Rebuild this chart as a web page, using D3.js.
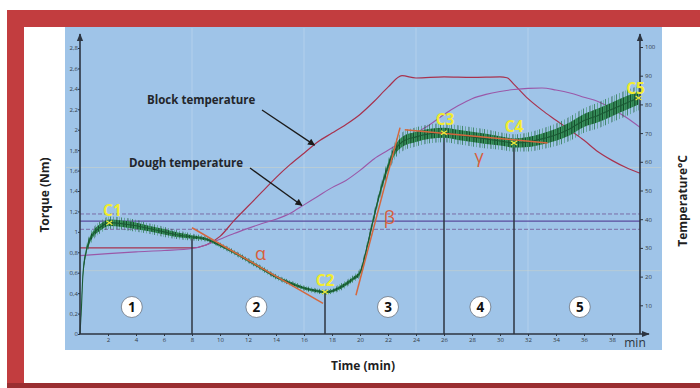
<!DOCTYPE html>
<html>
<head>
<meta charset="utf-8">
<script src="https://cdn.jsdelivr.net/npm/d3@7"></script>
<style>
  html, body { margin: 0; padding: 0; background: #ffffff; }
  svg { display: block; }
  text { font-family: "Open Sans", "DejaVu Sans", sans-serif; }
</style>
</head>
<body>
<svg id="chart" width="700" height="388"></svg>
<script>
// ---- Mixolab run: torque and temperature profiles ----
const torqueTime = [0, 0.1, 0.2, 0.4, 0.7, 1.0, 1.5, 2.1, 3, 4, 5, 6, 7, 8, 9, 10, 11, 12, 13, 14, 15, 16, 17, 17.5, 18, 18.5, 19, 19.5, 20, 20.5, 21, 21.5, 22, 22.5, 23, 24, 25, 26, 27, 28, 29, 30, 31, 32, 33, 34, 35, 36, 37, 38, 39, 39.9];
const torqueNm   = [0, 0.25, 0.56, 0.78, 0.92, 0.99, 1.05, 1.09, 1.08, 1.06, 1.03, 1.0, 0.97, 0.95, 0.93, 0.87, 0.8, 0.72, 0.64, 0.56, 0.5, 0.45, 0.42, 0.41, 0.42, 0.45, 0.49, 0.54, 0.6, 0.85, 1.15, 1.42, 1.64, 1.8, 1.88, 1.93, 1.96, 1.97, 1.95, 1.93, 1.91, 1.89, 1.87, 1.88, 1.91, 1.95, 2.01, 2.09, 2.14, 2.2, 2.26, 2.31];
// spread of the raw torque signal around its mean
const torqueSpread = [0, 0.02, 0.03, 0.03, 0.035, 0.035, 0.035, 0.035, 0.035, 0.035, 0.03, 0.03, 0.025, 0.02, 0.015, 0.015, 0.015, 0.015, 0.015, 0.015, 0.015, 0.015, 0.015, 0.015, 0.015, 0.02, 0.02, 0.02, 0.025, 0.03, 0.03, 0.035, 0.04, 0.05, 0.055, 0.055, 0.055, 0.055, 0.055, 0.055, 0.055, 0.05, 0.05, 0.055, 0.06, 0.065, 0.07, 0.07, 0.075, 0.075, 0.075, 0.07];

const blockTime = [0, 8, 9, 10, 11, 12, 13, 14, 15, 16, 17, 18, 19, 20, 21, 22, 23, 24, 26, 28, 30, 30.5, 31, 32, 33, 34, 35, 36, 37, 38, 39, 40];
const blockTemp = [30, 30, 31, 34, 39.5, 44.5, 49.5, 54.5, 59, 63, 67, 70, 73, 76.5, 81, 86, 90, 89.2, 89.6, 89.4, 89.6, 89.3, 87, 82, 78, 74.5, 71, 67.5, 63.5, 60.5, 58, 56];

const doughTime = [0, 2, 4, 6, 8, 9, 10, 11, 12, 13, 14, 15, 16, 17, 18, 19, 20, 21, 22, 23, 24, 25, 26, 27, 28, 29, 30, 31, 32, 33, 34, 35, 36, 37, 38, 39, 40];
const doughTemp = [27.3, 28, 28.6, 29.1, 29.8, 31, 33, 35, 36.8, 38.5, 40, 42, 45, 48, 51, 53.5, 57, 61, 64, 67, 70, 73, 76.5, 79.5, 82, 83.5, 84.5, 85.2, 85.6, 85.7, 85, 84, 82.5, 81, 78.5, 75.5, 72];

// target torque band (Nm)
const targetLine = 1.105;
const targetBand = [1.025, 1.175];

// characteristic points
const cNames  = ["C1", "C2", "C3", "C4", "C5"];
const cTime   = [2.1, 17.5, 26, 31, 39.9];
const cTorque = [1.09, 0.41, 1.97, 1.87, 2.31];

// stage boundaries (min) and stage numbers
const stageBounds = [8, 17.5, 26, 31];
const stageTorque = [0.95, 0.41, 1.97, 1.87];
const stageNames  = ["1", "2", "3", "4", "5"];
const stageCenter = [3.7, 12.6, 22.0, 28.6, 35.7];

// slope tangents  [t0, T0, t1, T1]
const slopeNames = ["α", "β", "γ"];
const slopeLines = [[8, 1.04, 17.36, 0.30], [19.71, 0.38, 22.86, 2.02], [23.2, 2.0, 33.4, 1.87]];
const slopeLabelPos = [[12.9, 0.79], [22.1, 1.15], [28.5, 1.74]];

// axis ticks
const torqueTicks = [0, 0.2, 0.4, 0.6, 0.8, 1, 1.2, 1.4, 1.6, 1.8, 2, 2.2, 2.4, 2.6, 2.8];
const tempTicks = [10, 20, 30, 40, 50, 60, 70, 80, 90, 100];
const timeTicks = [2, 4, 6, 8, 10, 12, 14, 16, 18, 20, 22, 24, 26, 28, 30, 32, 34, 36, 38];

// annotations: label, text anchor point, arrow target [min, °C]
const notes = [
  { text: "Block temperature", tx: 147, ty: 104, from: [262, 110], to: [16.75, 65.8] },
  { text: "Dough temperature", tx: 129, ty: 167, from: [250, 168], to: [15.85, 44.8] }
];

const svg = d3.select("#chart");

// ---- frame ----
svg.append("rect").attr("x", 7).attr("y", 10).attr("width", 693).attr("height", 378).attr("fill", "#c23d3f");
svg.append("rect").attr("x", 7).attr("y", 383).attr("width", 693).attr("height", 5).attr("fill", "#9a2e31");
svg.append("rect").attr("x", 24).attr("y", 27).attr("width", 676).attr("height", 356).attr("fill", "#ffffff");

// plot panel
svg.append("rect").attr("x", 65).attr("y", 27).attr("width", 597).attr("height", 323).attr("fill", "#9fc4e8");

// ---- scales ----
const x = d3.scaleLinear().domain([0, 40]).range([80, 640]);
const yT = d3.scaleLinear().domain([0, 2.8]).range([334, 48]);
const yC = d3.scaleLinear().domain([0, 100]).range([334, 47]);

// faint grid
const g = svg.append("g");
[0.62, 1.63].forEach(v => g.append("line").attr("x1", 66).attr("x2", 661).attr("y1", yT(v)).attr("y2", yT(v))
  .attr("stroke", "#d8d6c0").attr("stroke-opacity", 0.45).attr("stroke-width", 1));
[8, 16, 24, 32].forEach(v => g.append("line").attr("x1", x(v)).attr("x2", x(v)).attr("y1", 28).attr("y2", 333)
  .attr("stroke", "#c9dcef").attr("stroke-opacity", 0.5).attr("stroke-width", 1));

// ---- target torque lines ----
svg.append("line").attr("x1", x(0)).attr("x2", x(40)).attr("y1", yT(targetLine)).attr("y2", yT(targetLine))
  .attr("stroke", "#5a4b9e").attr("stroke-width", 1.3);
targetBand.forEach(v => svg.append("line").attr("x1", x(0)).attr("x2", x(40)).attr("y1", yT(v)).attr("y2", yT(v))
  .attr("stroke", "#7a6ca6").attr("stroke-width", 1).attr("stroke-dasharray", "4,2"));

// ---- temperature curves ----
const tempLine = d3.line().curve(d3.curveMonotoneX);
svg.append("path")
  .attr("d", tempLine(blockTime.map((t, i) => [x(t), yC(blockTemp[i])])))
  .attr("fill", "none").attr("stroke", "#a8324e").attr("stroke-width", 1.2);
svg.append("path")
  .attr("d", tempLine(doughTime.map((t, i) => [x(t), yC(doughTemp[i])])))
  .attr("fill", "none").attr("stroke", "#9a58a8").attr("stroke-width", 1.1);

// ---- stage boundaries ----
stageBounds.forEach((t, i) => svg.append("line")
  .attr("x1", x(t)).attr("x2", x(t)).attr("y1", yT(0)).attr("y2", yT(stageTorque[i]))
  .attr("stroke", "#2c3440").attr("stroke-width", 1.5));

// ---- torque signal: mean trace inside its fluctuation band ----
const defs = svg.append("defs");
function stripePattern(id, w, bg, stripes) {
  const p = defs.append("pattern").attr("id", id).attr("patternUnits", "userSpaceOnUse")
    .attr("width", w).attr("height", 400);
  if (bg) p.append("rect").attr("width", w).attr("height", 400).attr("fill", bg);
  stripes.forEach(s => p.append("rect").attr("x", s[0]).attr("width", s[1]).attr("height", 400).attr("fill", s[2]));
}
stripePattern("signalOuter", 11, null, [[0, 0.8, "#1d6a3c"], [3.2, 0.6, "#2f8a55"], [6.5, 0.9, "#175a33"], [9, 0.5, "#3a9c63"]]);
stripePattern("signalInner", 7, "#3a9460", [[0, 1, "#154f2c"], [2.5, 0.7, "#1f6b3c"], [4.3, 1.1, "#104526"], [6, 0.5, "#2a7d4c"]]);

const tData = torqueTime.map((t, i) => ({ t, v: torqueNm[i], s: torqueSpread[i] }));
const bandOf = k => d3.area().curve(d3.curveMonotoneX)
  .x(d => x(d.t)).y0(d => yT(d.v - d.s * k)).y1(d => yT(d.v + d.s * k));
svg.append("path").attr("d", bandOf(1.7)(tData)).attr("fill", "url(#signalOuter)").attr("opacity", 0.85);
svg.append("path").attr("d", bandOf(0.9)(tData)).attr("fill", "url(#signalInner)");
svg.append("path")
  .attr("d", d3.line().curve(d3.curveMonotoneX).x(d => x(d.t)).y(d => yT(d.v))(tData))
  .attr("fill", "none").attr("stroke", "#1a5a34").attr("stroke-width", 1.1);

// ---- slope tangents ----
slopeLines.forEach(s => svg.append("line")
  .attr("x1", x(s[0])).attr("y1", yT(s[1])).attr("x2", x(s[2])).attr("y2", yT(s[3]))
  .attr("stroke", "#d4683e").attr("stroke-width", 1.5));
slopeNames.forEach((n, i) => svg.append("text")
  .attr("x", x(slopeLabelPos[i][0])).attr("y", yT(slopeLabelPos[i][1]))
  .attr("text-anchor", "middle").attr("dominant-baseline", "central")
  .attr("font-family", "DejaVu Serif, serif").attr("font-size", 18).attr("fill", "#d8603c").text(n));

// ---- axes ----
const axisColor = "#2c3440";
defs.append("marker").attr("id", "axArrow").attr("viewBox", "0 0 10 10").attr("refX", 9).attr("refY", 5)
  .attr("markerWidth", 5).attr("markerHeight", 5).attr("orient", "auto")
  .append("path").attr("d", "M0,1 L10,5 L0,9 Z").attr("fill", axisColor);

svg.append("line").attr("x1", x(0)).attr("x2", x(0)).attr("y1", yT(0)).attr("y2", 34)
  .attr("stroke", axisColor).attr("stroke-width", 1.6).attr("marker-end", "url(#axArrow)");
svg.append("line").attr("x1", x(40)).attr("x2", x(40)).attr("y1", yT(0)).attr("y2", 34)
  .attr("stroke", axisColor).attr("stroke-width", 1.6).attr("marker-end", "url(#axArrow)");
svg.append("line").attr("x1", x(0)).attr("x2", 649).attr("y1", yT(0)).attr("y2", yT(0))
  .attr("stroke", axisColor).attr("stroke-width", 1.6).attr("marker-end", "url(#axArrow)");

const fmtComma = v => String(v).replace(".", ",");
const tickFont = 6;

const leftAxis = svg.append("g").attr("transform", `translate(${x(0)},0)`)
  .call(d3.axisLeft(yT).tickValues(torqueTicks).tickSize(2).tickFormat(fmtComma));
const rightAxis = svg.append("g").attr("transform", `translate(${x(40)},0)`)
  .call(d3.axisRight(yC).tickValues(tempTicks).tickSize(3).tickFormat(d3.format("d")));
const bottomAxis = svg.append("g").attr("transform", `translate(0,${yT(0)})`)
  .call(d3.axisBottom(x).tickValues(timeTicks).tickSize(2).tickFormat(d3.format("d")));
[leftAxis, rightAxis, bottomAxis].forEach(a => {
  a.select(".domain").remove();
  a.selectAll(".tick line").attr("stroke", axisColor).attr("stroke-width", 1);
  a.selectAll(".tick text").attr("fill", "#333a44").attr("font-size", tickFont)
    .attr("font-family", "DejaVu Sans, sans-serif");
});
leftAxis.selectAll(".tick text").attr("x", -2);
rightAxis.selectAll(".tick text").attr("x", 5);
bottomAxis.selectAll(".tick text").attr("y", 4);

svg.append("text").attr("x", 635).attr("y", 347).attr("text-anchor", "middle")
  .attr("font-size", 12).attr("fill", "#2c3440").text("min");

// ---- characteristic points ----
const cLabelLift = [6.5, 6, 8, 11, 4];
const cLabelShift = [3, 0, 1, 0, -3];
cTime.forEach((t, i) => {
  const px = x(t), py = yT(cTorque[i]);
  svg.append("path").attr("d", `M${px - 3},${py - 2}L${px + 3},${py + 2}M${px - 3},${py + 2}L${px + 3},${py - 2}`)
    .attr("stroke", "#f0ea3a").attr("stroke-width", 1.2);
  svg.append("text").attr("x", px + cLabelShift[i]).attr("y", py - cLabelLift[i])
    .attr("text-anchor", "middle").attr("font-size", 15.5).attr("font-weight", 700)
    .attr("font-family", "Liberation Sans, Arial, sans-serif")
    .attr("fill", "#f2ec2e").text(cNames[i]);
});

// ---- stage numbers ----
stageNames.forEach((n, i) => {
  const cx = x(stageCenter[i]), cy = 307;
  svg.append("circle").attr("cx", cx).attr("cy", cy).attr("r", 10.5)
    .attr("fill", "#ffffff").attr("stroke", "#6b7480").attr("stroke-width", 0.8);
  svg.append("text").attr("x", cx).attr("y", cy).attr("dy", "0.36em").attr("text-anchor", "middle")
    .attr("font-size", 13.5).attr("font-weight", 700).attr("font-family", "Liberation Sans, Arial, sans-serif")
    .attr("fill", "#111").text(n);
});

// ---- annotations ----
defs.append("marker").attr("id", "noteArrow").attr("viewBox", "0 0 10 10").attr("refX", 9).attr("refY", 5)
  .attr("markerWidth", 9).attr("markerHeight", 7).attr("markerUnits", "userSpaceOnUse").attr("orient", "auto")
  .append("path").attr("d", "M0,0 L10,5 L0,10 Z").attr("fill", "#1b1b1b");
notes.forEach(nt => {
  svg.append("text").attr("x", nt.tx).attr("y", nt.ty).attr("font-size", 11.5).attr("font-weight", 700)
    .attr("fill", "#23262b").text(nt.text);
  svg.append("line").attr("x1", nt.from[0]).attr("y1", nt.from[1])
    .attr("x2", x(nt.to[0])).attr("y2", yC(nt.to[1]))
    .attr("stroke", "#1b1b1b").attr("stroke-width", 1.3).attr("marker-end", "url(#noteArrow)");
});

// ---- axis titles ----
svg.append("text").attr("transform", "translate(49,195) rotate(-90)").attr("text-anchor", "middle")
  .attr("font-size", 12).attr("font-weight", 700).attr("fill", "#1f1f1f").text("Torque (Nm)");
svg.append("text").attr("x", 363).attr("y", 370).attr("text-anchor", "middle")
  .attr("font-size", 12).attr("font-weight", 700).attr("fill", "#1f1f1f").text("Time (min)");
svg.append("text").attr("transform", "translate(687,201) rotate(-90)").attr("text-anchor", "middle")
  .attr("font-size", 12).attr("font-weight", 700).attr("fill", "#1f1f1f").text("Temperature°C");
</script>
</body>
</html>
